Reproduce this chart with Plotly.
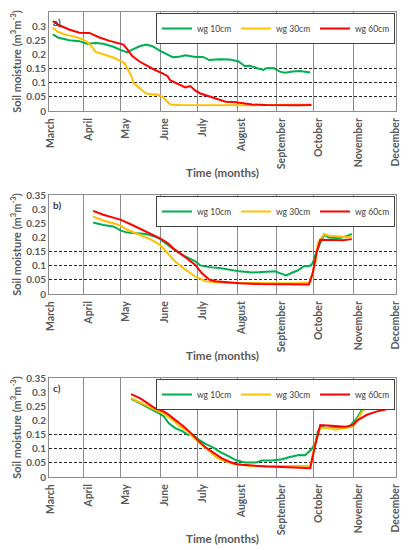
import plotly.graph_objects as go
from plotly.subplots import make_subplots

# ---- data (volumetric soil moisture, m3/m3) ----
# panel a
a_d10 = ['2019-03-08','2019-03-12','2019-03-21','2019-03-29','2019-04-04','2019-04-11','2019-04-17',
         '2019-04-25','2019-05-01','2019-05-06','2019-05-09','2019-05-16','2019-05-21','2019-05-26',
         '2019-05-31','2019-06-06','2019-06-11','2019-06-16','2019-06-21','2019-06-29','2019-07-05',
         '2019-07-10','2019-07-18','2019-07-26','2019-08-02','2019-08-07','2019-08-11','2019-08-18',
         '2019-08-22','2019-08-24','2019-08-30','2019-09-04','2019-09-08','2019-09-14','2019-09-20',
         '2019-09-28']
a_v10 = [0.271,0.260,0.250,0.247,0.238,0.240,0.238,0.227,0.215,0.207,0.215,0.229,0.235,0.229,
         0.215,0.200,0.190,0.192,0.197,0.191,0.191,0.180,0.183,0.182,0.176,0.159,0.160,0.150,
         0.145,0.151,0.152,0.139,0.135,0.140,0.141,0.136]

a_d30 = ['2019-03-08','2019-03-12','2019-03-18','2019-03-26','2019-04-01','2019-04-06','2019-04-11',
         '2019-04-17','2019-04-25','2019-05-01','2019-05-04','2019-05-06','2019-05-09','2019-05-11',
         '2019-05-16','2019-05-21','2019-05-26','2019-05-29','2019-06-03','2019-06-07','2019-06-09',
         '2019-06-16','2019-07-02','2019-07-12','2019-07-28','2019-08-08','2019-08-24','2019-09-14',
         '2019-09-29']
a_v30 = [0.294,0.280,0.270,0.262,0.253,0.238,0.209,0.200,0.189,0.176,0.168,0.150,0.127,0.098,
         0.080,0.062,0.058,0.059,0.050,0.033,0.023,0.021,0.020,0.021,0.019,0.020,0.021,0.022,
         0.023]

a_d60 = ['2019-03-08','2019-03-13','2019-03-21','2019-03-29','2019-04-06','2019-04-14','2019-04-22',
         '2019-04-28','2019-05-03','2019-05-06','2019-05-10','2019-05-16','2019-05-22','2019-05-28',
         '2019-06-03','2019-06-07','2019-06-09','2019-06-16','2019-06-21','2019-06-25','2019-06-29',
         '2019-07-03','2019-07-10','2019-07-18','2019-07-23','2019-07-31','2019-08-08','2019-08-13',
         '2019-08-24','2019-09-06','2019-09-19','2019-09-29']
a_v60 = [0.318,0.303,0.288,0.277,0.276,0.260,0.248,0.241,0.235,0.219,0.194,0.174,0.159,0.145,
         0.133,0.123,0.109,0.095,0.083,0.088,0.072,0.062,0.051,0.039,0.033,0.031,0.027,0.023,
         0.021,0.020,0.020,0.021]

# panel b
b_d10 = ['2019-04-09','2019-04-17','2019-04-25','2019-05-01','2019-05-06','2019-05-13','2019-05-21',
         '2019-05-28','2019-06-01','2019-06-07','2019-06-13','2019-06-21','2019-06-29','2019-07-03',
         '2019-07-10','2019-07-18','2019-07-26','2019-08-03','2019-08-13','2019-08-24','2019-08-31',
         '2019-09-05','2019-09-09','2019-09-14','2019-09-18','2019-09-23','2019-09-28','2019-09-30',
         '2019-10-03','2019-10-06','2019-10-09','2019-10-13','2019-10-21','2019-10-26','2019-10-31']
b_v10 = [0.253,0.244,0.239,0.224,0.217,0.215,0.212,0.203,0.194,0.174,0.154,0.133,0.115,0.101,
         0.095,0.092,0.086,0.080,0.076,0.079,0.080,0.072,0.066,0.076,0.083,0.098,0.100,0.109,
         0.150,0.180,0.209,0.200,0.197,0.203,0.212]

b_d30 = ['2019-04-09','2019-04-17','2019-04-25','2019-05-01','2019-05-06','2019-05-16','2019-05-25',
         '2019-06-01','2019-06-07','2019-06-13','2019-06-21','2019-06-29','2019-07-07','2019-07-12',
         '2019-07-18','2019-07-28','2019-08-11','2019-08-24','2019-09-06','2019-09-19','2019-09-28',
         '2019-10-02','2019-10-04','2019-10-09','2019-10-13','2019-10-21','2019-10-26','2019-10-31']
b_v30 = [0.274,0.260,0.250,0.241,0.227,0.209,0.192,0.174,0.145,0.115,0.086,0.062,0.045,0.042,
         0.041,0.039,0.038,0.039,0.038,0.039,0.041,0.109,0.180,0.212,0.206,0.203,0.201,0.203]

b_d60 = ['2019-04-09','2019-04-17','2019-04-25','2019-05-01','2019-05-10','2019-05-21','2019-06-01',
         '2019-06-07','2019-06-13','2019-06-21','2019-06-29','2019-07-04','2019-07-10','2019-07-15',
         '2019-07-23','2019-08-03','2019-08-19','2019-09-01','2019-09-14','2019-09-27','2019-09-30',
         '2019-10-03','2019-10-06','2019-10-15','2019-10-24','2019-10-31']
b_v60 = [0.294,0.280,0.270,0.262,0.244,0.221,0.197,0.180,0.156,0.130,0.103,0.074,0.051,0.045,
         0.041,0.038,0.035,0.034,0.033,0.034,0.074,0.145,0.192,0.192,0.190,0.194]

# panel c
c_d10 = ['2019-05-09','2019-05-16','2019-05-23','2019-05-31','2019-06-04','2019-06-08','2019-06-13',
         '2019-06-19','2019-06-23','2019-06-27','2019-07-02','2019-07-07','2019-07-14','2019-07-18',
         '2019-07-26','2019-07-31','2019-08-07','2019-08-16','2019-08-21','2019-08-29','2019-09-06',
         '2019-09-11','2019-09-19','2019-09-24','2019-09-29','2019-10-02','2019-10-04','2019-10-07',
         '2019-10-11','2019-10-15','2019-10-24','2019-10-29','2019-11-04','2019-11-08','2019-11-09',
         '2019-11-14','2019-11-22','2019-11-29','2019-12-01']
c_v10 = [0.277,0.261,0.243,0.226,0.214,0.190,0.173,0.161,0.149,0.149,0.131,0.117,0.102,0.090,
         0.072,0.060,0.051,0.051,0.058,0.058,0.063,0.070,0.078,0.077,0.098,0.119,0.161,0.178,
         0.173,0.178,0.173,0.178,0.208,0.238,0.255,0.250,0.250,0.255,0.252]

c_d30 = ['2019-05-09','2019-05-16','2019-05-23','2019-05-31','2019-06-04','2019-06-11','2019-06-17',
         '2019-06-23','2019-06-27','2019-07-02','2019-07-09','2019-07-15','2019-07-20','2019-07-28',
         '2019-08-03','2019-08-13','2019-08-24','2019-09-06','2019-09-19','2019-09-28','2019-10-02',
         '2019-10-06','2019-10-13','2019-10-18','2019-10-26','2019-11-01','2019-11-05','2019-11-09',
         '2019-11-14','2019-11-25','2019-11-30']
c_v30 = [0.279,0.264,0.249,0.232,0.223,0.202,0.178,0.161,0.141,0.122,0.096,0.072,0.060,0.048,
         0.043,0.039,0.039,0.039,0.038,0.039,0.119,0.173,0.173,0.167,0.173,0.178,0.208,0.238,
         0.243,0.249,0.255]

c_d60 = ['2019-05-09','2019-05-16','2019-05-22','2019-05-28','2019-06-03','2019-06-07','2019-06-13',
         '2019-06-20','2019-06-27','2019-07-02','2019-07-07','2019-07-14','2019-07-20','2019-07-26',
         '2019-07-31','2019-08-05','2019-08-13','2019-08-24','2019-09-06','2019-09-19','2019-09-28',
         '2019-10-02','2019-10-06','2019-10-15','2019-10-26','2019-11-01','2019-11-05','2019-11-12',
         '2019-11-20','2019-11-26','2019-11-30']
c_v60 = [0.293,0.279,0.261,0.243,0.234,0.223,0.202,0.178,0.149,0.125,0.105,0.084,0.066,0.054,
         0.046,0.043,0.040,0.037,0.035,0.033,0.031,0.113,0.184,0.181,0.178,0.184,0.202,0.220,
         0.232,0.238,0.243]

series_names = ['wg 10cm', 'wg 30cm', 'wg 60cm']
colors = ['#00B050', '#FFC000', '#FF0000']
panel_labels = ['a)', 'b)', 'c)']
thresholds = [0.05, 0.1, 0.15]

month_names = ['March','April','May','June','July','August','September','October','November','December']
month_starts = ['2019-04-01','2019-05-01','2019-06-01','2019-07-01','2019-08-01',
                '2019-09-01','2019-10-01','2019-11-01']
label_pos = ['2019-03-06','2019-04-05','2019-05-05','2019-06-05','2019-07-05','2019-08-05',
             '2019-09-05','2019-10-05','2019-11-05','2019-12-05']
x_range = ['2019-03-05', '2019-12-05']

panels = [
    [(a_d10, a_v10), (a_d30, a_v30), (a_d60, a_v60)],
    [(b_d10, b_v10), (b_d30, b_v30), (b_d60, b_v60)],
    [(c_d10, c_v10), (c_d30, c_v30), (c_d60, c_v60)],
]

# the page body has an 8px margin, so the figure is drawn 8px in from the window corner
OFF = 8
W, H = 409 - OFF, 550 - OFF
# plot-area boxes (top, bottom) in window pixels
boxes = [(12, 111), (195, 294), (378, 477)]
x_dom = [(49 - OFF) / W, (396 - OFF) / W]

grey = '#595959'
FONT = 'Lato'

fig = make_subplots(rows=3, cols=1)

for i, panel in enumerate(panels):
    leg = 'legend' if i == 0 else f'legend{i + 1}'
    for (d, v), name, col in zip(panel, series_names, colors):
        fig.add_trace(go.Scatter(x=d, y=v, mode='lines', name=name,
                                 line=dict(color=col, width=2),
                                 legend=leg, hoverinfo='skip'),
                      row=i + 1, col=1)

    top, bot = boxes[i]
    top, bot = top - OFF, bot - OFF
    ax = '' if i == 0 else str(i + 1)
    fig.update_layout({
        f'xaxis{ax}': dict(
            domain=x_dom, type='date', range=x_range, automargin=False,
            tickmode='array', tickvals=label_pos, ticktext=month_names,
            tickangle=-90, ticks='', ticklabelstandoff=2,
            tickfont=dict(family=FONT, size=10.5, color=grey, weight='bold'),
            showgrid=False, zeroline=False,
            showline=True, linecolor='#8c8c8c', linewidth=1, mirror=True,
            minor=dict(tickmode='array', tickvals=month_starts, showgrid=True,
                       gridcolor='#8c8c8c', gridwidth=1, ticks=''),
            title=dict(text='Time (months)', standoff=0,
                       font=dict(family=FONT, size=11.5, color=grey, weight='bold')),
        ),
        f'yaxis{ax}': dict(
            domain=[1 - bot / H, 1 - top / H], range=[0, 0.35], automargin=False,
            tickmode='array', tickvals=[0, 0.05, 0.1, 0.15, 0.2, 0.25, 0.3, 0.35],
            ticktext=['0', '0.05', '0.1', '0.15', '0.2', '0.25', '0.3', '0.35'],
            ticks='', ticklabelstandoff=0,
            tickfont=dict(family=FONT, size=10, color=grey, weight='bold'),
            showgrid=False, zeroline=False,
            showline=True, linecolor='#8c8c8c', linewidth=1, mirror=True,
            minor=dict(tickmode='array', tickvals=thresholds, showgrid=True,
                       gridcolor='#262626', gridwidth=1, griddash='3px,2px', ticks=''),
            title=dict(text='Soil moisture (m<sup>3</sup>m<sup>-3</sup>)', standoff=4,
                       font=dict(family=FONT, size=11, color=grey, weight='bold')),
        ),
        leg: dict(
            orientation='h', xanchor='right', yanchor='top',
            x=x_dom[1] - 1 / W, y=1 - (top + 1) / H,
            bgcolor='white', bordercolor='#404040', borderwidth=1,
            font=dict(family=FONT, size=8.5, color='#404040'),
            itemwidth=30, tracegroupgap=0, entrywidth=34, entrywidthmode='pixels',
        ),
    })
    fig.add_annotation(text=panel_labels[i], xref=f'x{ax} domain', yref=f'y{ax} domain',
                       x=0.005, y=0.9, xanchor='left', yanchor='middle', showarrow=False,
                       font=dict(family=FONT, size=10, color='#404040', weight='bold'))

fig.update_layout(width=W, height=H, margin=dict(l=0, r=0, t=0, b=0),
                  paper_bgcolor='white', plot_bgcolor='white')

fig.write_html("out.html")
